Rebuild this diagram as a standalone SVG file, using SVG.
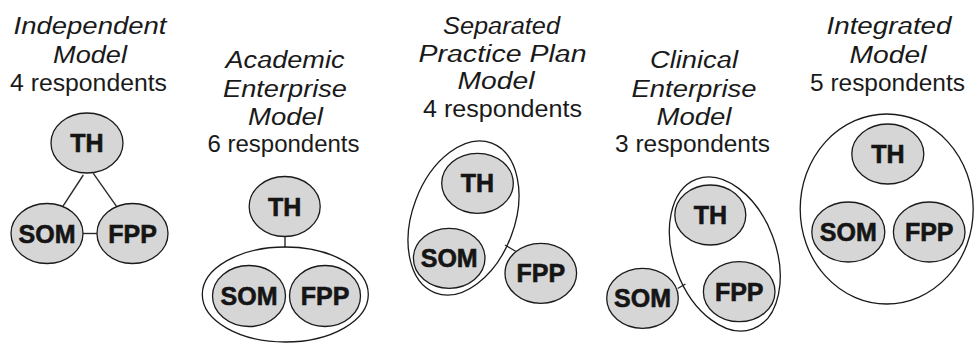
<svg xmlns="http://www.w3.org/2000/svg" width="974" height="343" viewBox="0 0 974 343">
<style>
.bg{fill:#ffffff}
.t{font-family:"Liberation Sans",Arial,sans-serif;font-style:italic;font-size:23px;fill:#1a1a1a;text-anchor:middle}
.r{font-family:"Liberation Sans",Arial,sans-serif;font-size:23px;fill:#1a1a1a;text-anchor:middle}
.n{fill:#d6d6d6;stroke:#1a1a1a;stroke-width:1.3}
.o{fill:none;stroke:#1a1a1a;stroke-width:1.3}
.l{font-family:"Liberation Sans",Arial,sans-serif;font-weight:bold;font-size:25px;fill:#151515;stroke:#151515;stroke-width:0.6;text-anchor:middle}
.c{stroke:#2a2a2a;stroke-width:1.4;fill:none}
</style>
<rect class="bg" x="0" y="0" width="974" height="343"/>

<g id="titles">
  <g id="title-independent">
    <text class="t" x="90" y="33.5" textLength="153" lengthAdjust="spacingAndGlyphs">Independent</text>
    <text class="t" x="90" y="62.5" textLength="74" lengthAdjust="spacingAndGlyphs">Model</text>
    <text class="r" x="88.5" y="90.7" textLength="157" lengthAdjust="spacingAndGlyphs">4 respondents</text>
  </g>
  <g id="title-academic">
    <text class="t" x="285" y="68.3" textLength="119" lengthAdjust="spacingAndGlyphs">Academic</text>
    <text class="t" x="285" y="96.7" textLength="124" lengthAdjust="spacingAndGlyphs">Enterprise</text>
    <text class="t" x="285.5" y="125" textLength="75" lengthAdjust="spacingAndGlyphs">Model</text>
    <text class="r" x="283.5" y="151.7" textLength="152" lengthAdjust="spacingAndGlyphs">6 respondents</text>
  </g>
  <g id="title-separated">
    <text class="t" x="501.5" y="33.5" textLength="117" lengthAdjust="spacingAndGlyphs">Separated</text>
    <text class="t" x="502.5" y="61.7" textLength="168" lengthAdjust="spacingAndGlyphs">Practice Plan</text>
    <text class="t" x="496" y="89.3" textLength="77" lengthAdjust="spacingAndGlyphs">Model</text>
    <text class="r" x="502.5" y="116.7" textLength="159" lengthAdjust="spacingAndGlyphs">4 respondents</text>
  </g>
  <g id="title-clinical">
    <text class="t" x="694" y="68.3" textLength="88" lengthAdjust="spacingAndGlyphs">Clinical</text>
    <text class="t" x="694" y="96.7" textLength="125" lengthAdjust="spacingAndGlyphs">Enterprise</text>
    <text class="t" x="694" y="125" textLength="75" lengthAdjust="spacingAndGlyphs">Model</text>
    <text class="r" x="692.5" y="151.7" textLength="155" lengthAdjust="spacingAndGlyphs">3 respondents</text>
  </g>
  <g id="title-integrated">
    <text class="t" x="889" y="33.5" textLength="125" lengthAdjust="spacingAndGlyphs">Integrated</text>
    <text class="t" x="888" y="62.7" textLength="77" lengthAdjust="spacingAndGlyphs">Model</text>
    <text class="r" x="887.5" y="90.7" textLength="155" lengthAdjust="spacingAndGlyphs">5 respondents</text>
  </g>
</g>

<g id="connectors">
  <line class="c" x1="83.3" y1="175" x2="62.7" y2="206.7"/>
  <line class="c" x1="93.3" y1="173.3" x2="116.7" y2="206.7"/>
  <line class="c" x1="83" y1="233.5" x2="97" y2="233.5"/>
  <line class="c" x1="285" y1="236.5" x2="285" y2="247.5"/>
  <line class="c" x1="505" y1="245" x2="516" y2="251.5"/>
  <line class="c" x1="677.7" y1="288.5" x2="685.5" y2="284"/>
</g>

<g id="independent">
  <g id="ind-TH"><ellipse class="n" cx="87" cy="143" rx="36" ry="30"/><text class="l" x="87" y="152">TH</text></g>
  <g id="ind-SOM"><ellipse class="n" cx="47" cy="233.5" rx="36" ry="30"/><text class="l" x="47" y="242.5">SOM</text></g>
  <g id="ind-FPP"><ellipse class="n" cx="132.5" cy="233.5" rx="35.5" ry="30"/><text class="l" x="132.5" y="242.5">FPP</text></g>
</g>

<g id="academic">
  <g id="aca-TH"><ellipse class="n" cx="284.7" cy="206.5" rx="35.5" ry="30"/><text class="l" x="284.7" y="215.5">TH</text></g>
  <g id="aca-group"><ellipse class="o" cx="285.3" cy="294.5" rx="83" ry="47.5"/></g>
  <g id="aca-SOM"><ellipse class="n" cx="249" cy="296" rx="36.5" ry="30.5"/><text class="l" x="249" y="305">SOM</text></g>
  <g id="aca-FPP"><ellipse class="n" cx="325" cy="296" rx="35.5" ry="30.5"/><text class="l" x="325" y="305">FPP</text></g>
</g>

<g id="separated">
  <g id="sep-group"><ellipse class="o" cx="463.5" cy="218" rx="51" ry="80" transform="rotate(20.7 463.5 218)"/></g>
  <g id="sep-TH"><ellipse class="n" cx="477.5" cy="183.3" rx="35.8" ry="30"/><text class="l" x="477.5" y="192.3">TH</text></g>
  <g id="sep-SOM"><ellipse class="n" cx="449.2" cy="258.3" rx="35.8" ry="30"/><text class="l" x="449.2" y="267.3">SOM</text></g>
  <g id="sep-FPP"><ellipse class="n" cx="540.8" cy="273.3" rx="35.8" ry="30"/><text class="l" x="540.8" y="282.3">FPP</text></g>
</g>

<g id="clinical">
  <g id="cli-group"><ellipse class="o" cx="724.8" cy="254" rx="51" ry="80" transform="rotate(-20.6 724.8 254)"/></g>
  <g id="cli-TH"><ellipse class="n" cx="710.3" cy="215" rx="35.5" ry="30"/><text class="l" x="710.3" y="224">TH</text></g>
  <g id="cli-FPP"><ellipse class="n" cx="739.2" cy="291.7" rx="35.8" ry="30"/><text class="l" x="739.2" y="300.7">FPP</text></g>
  <g id="cli-SOM"><ellipse class="n" cx="642.5" cy="298.3" rx="35.8" ry="30"/><text class="l" x="642.5" y="307.3">SOM</text></g>
</g>

<g id="integrated">
  <g id="int-group"><ellipse class="o" cx="886.7" cy="209" rx="86.5" ry="95"/></g>
  <g id="int-TH"><ellipse class="n" cx="887.8" cy="154" rx="36" ry="30"/><text class="l" x="887.8" y="163">TH</text></g>
  <g id="int-SOM"><ellipse class="n" cx="848.3" cy="232" rx="36.5" ry="30"/><text class="l" x="848.3" y="241">SOM</text></g>
  <g id="int-FPP"><ellipse class="n" cx="929.2" cy="232" rx="35.8" ry="30"/><text class="l" x="929.2" y="241">FPP</text></g>
</g>
</svg>
